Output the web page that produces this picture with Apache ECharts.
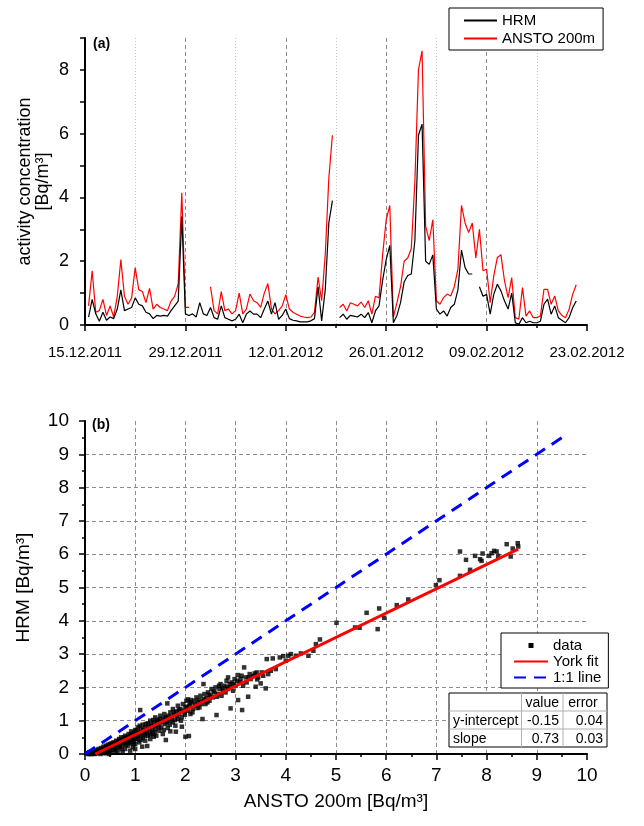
<!DOCTYPE html>
<html><head><meta charset="utf-8">
<script src="https://cdn.jsdelivr.net/npm/echarts@6/dist/echarts.min.js"></script>
<style>html,body{margin:0;padding:0;background:#fff}#c{width:644px;height:826px}</style>
</head><body><div id="c"></div>
<script>
// ---------- data ----------
const dateLabels = ['15.12.2011','29.12.2011','12.01.2012','26.01.2012','09.02.2012','23.02.2012'];
// half-day samples starting 0.5 d after 15.12.2011
const ansto = [
0.6,1.7,0.4,0.45,0.8,0.3,0.6,0.25,0.9,2.05,
0.9,0.65,0.85,1.8,1.1,1.05,0.7,1.15,0.5,0.65,
0.55,0.5,0.45,0.75,0.9,1.3,4.15,0.55,0.55,null,
null,null,null,null,1.2,0.45,0.35,1.05,0.45,0.5,
0.35,0.45,1.0,0.35,0.5,0.97,0.76,0.7,0.55,1.0,
1.3,0.5,0.35,0.45,0.6,0.95,0.5,0.4,0.34,0.28,
0.25,0.23,0.25,0.4,1.5,0.76,2.2,4.6,5.95,null,
0.55,0.65,0.44,0.7,0.65,0.6,0.72,0.55,0.76,0.34,
0.9,0.85,2.2,3.3,3.75,0.25,0.7,1.2,2.0,2.1,
2.4,4.5,8.0,8.6,3.1,2.65,3.3,0.76,0.65,0.86,
0.97,0.91,1.2,1.75,3.75,3.2,2.9,3.2,2.1,3.0,
1.7,1.75,0.7,1.54,2.12,2.2,1.38,0.86,1.49,0.23,
0.18,1.17,0.28,0.44,0.23,0.23,0.28,1.12,1.12,0.65,
0.91,0.44,0.3,0.23,0.49,0.96,1.26
];
const hrm = [
0.25,0.8,0.35,0.12,0.4,0.15,0.25,0.2,0.5,1.1,
0.45,0.5,0.55,0.85,0.65,0.6,0.4,0.35,0.2,0.3,
0.28,0.3,0.28,0.45,0.6,0.75,3.4,0.35,0.3,0.35,
0.25,0.7,0.35,0.3,0.55,0.23,0.18,0.6,0.23,0.18,
0.13,0.18,0.34,0.07,0.34,0.44,0.34,0.34,0.23,0.5,
0.75,0.34,0.7,0.18,0.3,0.5,0.2,0.15,0.13,0.1,
0.1,0.1,0.13,0.2,1.2,0.13,1.1,3.2,3.9,null,
0.23,0.34,0.18,0.3,0.28,0.25,0.34,0.23,0.39,0.07,
0.44,0.6,1.4,2.05,2.5,0.07,0.3,0.7,1.35,1.55,
1.6,2.65,5.95,6.3,2.0,1.9,2.2,0.5,0.34,0.44,
0.28,0.55,0.65,1.1,2.35,1.8,1.6,1.6,null,1.2,
0.9,0.96,0.34,0.96,1.28,1.07,0.75,0.5,1.0,0.07,
0.02,0.23,0.07,0.12,0.07,0.07,0.12,0.65,0.81,0.34,
0.6,0.23,0.15,0.07,0.23,0.54,0.75
];
const scatterAnsto = [
0.05,0.08,0.10,0.12,0.15,0.18,0.20,0.22,0.25,0.27,
0.30,0.32,0.35,0.37,0.40,0.40,0.42,0.45,0.47,0.50,
0.50,0.52,0.55,0.57,0.60,0.60,0.62,0.65,0.65,0.68,
0.70,0.70,0.72,0.75,0.75,0.77,0.80,0.80,0.80,0.82,
0.85,0.85,0.87,0.90,0.90,0.90,0.92,0.95,0.95,0.95,
0.97,1.00,1.00,1.00,1.00,
1.02,1.05,1.05,1.08,1.08,1.10,1.10,1.12,1.14,1.15,
1.15,1.18,1.20,1.20,1.22,1.24,1.25,1.25,1.28,1.30,
1.30,1.30,1.33,1.35,1.37,1.38,1.40,1.40,1.42,1.45,
1.45,1.48,1.50,1.50,
1.52,1.55,1.55,1.58,1.60,1.61,1.62,1.64,1.65,1.68,
1.70,1.70,1.72,1.75,1.75,1.78,1.80,1.81,1.82,1.85,
1.85,1.88,1.90,1.93,1.93,1.95,1.98,2.00,2.00,
2.02,2.05,2.05,2.07,2.08,2.10,2.11,2.12,2.15,2.18,
2.20,2.22,2.25,2.28,2.30,2.34,2.35,2.36,2.38,2.40,
2.42,2.45,2.48,2.50,
2.52,2.55,2.58,2.60,2.62,2.65,2.68,2.70,2.72,2.75,
2.78,2.80,2.82,2.85,2.85,2.88,2.90,2.90,2.92,2.95,
2.98,3.00,
3.05,3.05,3.08,3.10,3.13,3.15,3.17,3.20,3.22,3.25,
3.28,3.30,3.35,3.40,3.42,3.43,3.45,3.50,3.52,3.55,
3.60,3.62,3.65,3.70,3.74,3.80,3.88,3.95,4.00,4.05,
4.10,4.20,4.30,4.45,4.55,4.60,4.68,
5.01,5.38,5.47,5.61,5.83,5.86,5.96,6.21,6.44,6.99,
7.06,7.47,7.47,7.59,7.67,7.77,7.87,7.90,7.92,8.05,
8.10,8.15,8.20,8.23,8.40,8.48,8.52,8.62,8.63,
0.06,0.09,0.13,0.16,0.19,0.21,0.24,0.26,0.29,0.31,
0.33,0.36,0.38,0.41,0.43,0.46,0.48,0.51,0.53,0.56,
0.58,0.61,0.63,0.66,0.69,0.71,0.73,0.76,0.78,0.81,
0.83,0.86,0.88,0.91,0.93,0.96,0.98,1.01,1.03,1.06,
1.09,1.11,1.13,1.16,1.19,1.21,1.23,1.26,1.29,1.31,
1.34,1.36,1.39,1.41,1.44,1.47,1.49,1.53,1.57,1.59,
1.63,1.66,1.69,1.73,1.77,1.79,1.83,1.87,1.91,1.96,
1.99,2.03,2.09,2.14,2.19,2.24,2.27,2.32,2.37,2.44,
2.47,2.56,2.63,2.67,2.74,2.83,2.96,3.03,3.12,3.26,
3.38
];
const scatterHrm = [
0.02,0.05,0.00,0.08,0.03,0.10,0.02,0.12,0.06,0.15,
0.05,0.18,0.10,0.22,0.02,0.14,0.25,0.08,0.20,0.30,
0.12,0.04,0.22,0.35,0.15,0.28,0.40,0.10,0.30,0.45,
0.20,0.35,0.50,0.05,0.28,0.42,0.15,0.35,0.55,0.48,
0.25,0.40,0.60,0.10,0.32,0.50,0.68,0.20,0.45,0.60,
0.38,0.30,0.52,0.72,0.15,
0.62,0.45,0.80,0.35,0.65,0.55,1.32,0.75,0.22,0.48,
0.88,0.62,0.40,0.80,0.70,0.24,0.55,0.92,0.75,0.45,
0.65,1.00,0.85,0.60,0.52,0.95,0.75,1.10,0.55,0.88,
1.02,0.70,0.95,1.15,
0.80,1.05,0.60,1.20,0.90,0.42,1.10,1.52,0.78,1.00,
1.25,0.68,1.12,0.95,1.35,1.18,0.85,0.67,1.28,1.05,
1.45,1.20,1.35,0.82,1.10,1.50,1.25,0.52,1.40,
1.60,1.64,1.30,0.54,1.45,1.20,1.62,1.55,1.35,1.60,
1.45,1.70,1.55,1.40,1.75,1.05,1.60,2.10,1.80,1.50,
1.68,1.85,1.60,1.75,
1.95,1.70,1.85,2.00,1.17,1.80,1.95,2.10,1.75,1.90,
2.05,1.85,2.20,2.30,1.95,2.10,1.37,2.00,2.15,1.90,
2.25,2.05,
2.37,1.62,2.15,2.25,1.32,2.05,2.60,2.30,2.15,1.72,
2.40,2.25,2.35,2.02,2.45,2.24,2.30,2.12,2.45,2.35,
1.97,2.85,2.40,2.50,2.87,2.55,2.90,2.94,2.80,2.95,
3.00,2.95,3.02,2.95,3.10,3.30,3.44,
3.94,3.80,3.79,4.24,3.75,4.37,4.09,4.47,4.64,5.07,
5.22,5.35,6.08,5.83,5.53,5.95,5.85,5.80,6.02,5.95,
6.03,6.10,6.08,5.95,6.30,5.93,6.17,6.33,6.23,
0.00,0.03,0.00,0.06,0.00,0.08,0.02,0.10,0.12,0.00,
0.08,0.16,0.05,0.19,0.10,0.28,0.00,0.20,0.32,0.12,
0.25,0.05,0.20,0.38,0.25,0.42,0.15,0.35,0.50,0.28,
0.42,0.52,0.35,0.58,0.42,0.30,0.65,0.45,0.70,0.55,
0.85,0.42,0.62,0.72,0.55,0.90,0.62,0.82,0.58,0.88,
0.72,1.02,0.65,0.85,0.98,0.80,1.05,0.95,0.72,1.08,
0.95,1.15,0.88,1.05,1.25,1.02,1.15,1.32,1.00,1.30,
1.18,1.42,1.52,1.25,1.48,1.38,1.62,1.50,1.65,1.55,
1.78,1.88,1.72,2.05,1.98,2.00,2.10,2.20,2.35,2.30,
2.42
];
const fitRows = ['y-intercept','slope'];
const fitValue = [-0.15, 0.73];
const fitError = [0.04, 0.03];
const tableHeader = ['', 'value', 'error'];
const oneToOneMax = 9.55;

// ---------- build ----------
const FONT = '"Liberation Sans", Arial, sans-serif';
const dayOf = i => 0.5 * (i + 1);
const anstoData = ansto.map((v, i) => [dayOf(i), v === null ? '-' : v]);
const hrmData = hrm.map((v, i) => [dayOf(i), v === null ? '-' : v]);
const scatterData = scatterAnsto.map((a, i) => [a, scatterHrm[i]]);
const fitStart = -fitValue[0] / fitValue[1];
const fitEnd = Math.max(...scatterAnsto);
const fitData = [[fitStart, fitValue[0] + fitValue[1] * fitStart], [fitEnd, fitValue[0] + fitValue[1] * fitEnd]];
const oneData = [[0, 0], [oneToOneMax, oneToOneMax]];

const axisLine = {show: true, onZero: false, lineStyle: {color: '#000', width: 2}};
const tick = len => ({show: true, inside: false, length: len, lineStyle: {color: '#000', width: 1.5}});
const minorTick = {show: true, splitNumber: 2, length: 3, lineStyle: {color: '#000', width: 1.5}};
const dashedGrid = {show: true, showMinLine: false, showMaxLine: false, lineStyle: {color: '#8c8c8c', width: 1, type: [4, 3]}};
const lbl = (size, margin, fmt) => ({show: true, fontSize: size, fontFamily: FONT, color: '#000', margin: margin, formatter: fmt});
const nameStyle = size => ({fontSize: size, fontFamily: FONT, color: '#000', lineHeight: size});

// table graphic
const T = {cols: [449, 521.5, 563, 607], rows: [693, 711, 729, 747]};
const tableEls = [];
tableEls.push({type: 'rect', z: 100, shape: {x: T.cols[0], y: T.rows[0], width: T.cols[3] - T.cols[0], height: T.rows[3] - T.rows[0]}, style: {fill: '#fff', stroke: '#000', lineWidth: 1}});
[T.cols[1], T.cols[2]].forEach(cx => tableEls.push({type: 'line', z: 101, shape: {x1: cx, y1: T.rows[0], x2: cx, y2: T.rows[3]}, style: {stroke: '#b0b0b0', lineWidth: 1}}));
[T.rows[1], T.rows[2]].forEach(ry => tableEls.push({type: 'line', z: 101, shape: {x1: T.cols[0], y1: ry, x2: T.cols[3], y2: ry}, style: {stroke: '#b0b0b0', lineWidth: 1}}));
const cellText = (txt, x, y, align) => ({type: 'text', z: 102, x: x, y: y, style: {text: txt, fontSize: 14, fontFamily: FONT, fill: '#000', align: align, verticalAlign: 'middle'}});
tableEls.push(cellText(tableHeader[1], (T.cols[1] + T.cols[2]) / 2, (T.rows[0] + T.rows[1]) / 2 + 1, 'center'));
tableEls.push(cellText(tableHeader[2], (T.cols[2] + T.cols[3]) / 2 - 2, (T.rows[0] + T.rows[1]) / 2 + 1, 'center'));
fitRows.forEach((r, i) => {
  const cy = (T.rows[i + 1] + T.rows[i + 2]) / 2 + 1;
  tableEls.push(cellText(r, T.cols[0] + 4, cy, 'left'));
  tableEls.push(cellText(fitValue[i].toFixed(2), T.cols[2] - 4, cy, 'right'));
  tableEls.push(cellText(fitError[i].toFixed(2), T.cols[3] - 4, cy, 'right'));
});

const option = {
  animation: false,
  backgroundColor: '#fff',
  grid: [
    {left: 85, right: 57, top: 38, bottom: 501, containLabel: false},
    {left: 85, right: 57, top: 421, bottom: 72, containLabel: false}
  ],
  xAxis: [
    {gridIndex: 0, type: 'value', min: 0, max: 70, interval: 14,
     axisLine: axisLine, axisTick: tick(6), minorTick: minorTick,
     axisLabel: lbl(15, 20, v => { const k = Math.round(v / 14); return Math.abs(v - 14 * k) < 1e-6 && dateLabels[k] ? dateLabels[k] : ''; }),
     splitLine: dashedGrid,
     minorSplitLine: {show: true, lineStyle: {color: '#c8c8c8', width: 1, type: [1, 2]}}},
    {gridIndex: 1, type: 'value', min: 0, max: 10, interval: 1,
     axisLine: axisLine, axisTick: tick(6), minorTick: minorTick,
     axisLabel: lbl(19, 12, v => String(v)),
     splitLine: dashedGrid,
     name: 'ANSTO 200m [Bq/m³]', nameLocation: 'middle', nameGap: 38, nameTextStyle: nameStyle(19)}
  ],
  yAxis: [
    {gridIndex: 0, type: 'value', min: 0, max: 9, interval: 1,
     axisLine: axisLine, axisTick: tick(5),
     axisLabel: lbl(18, 16, v => (Math.round(v) % 2 === 0 && v < 9 ? String(Math.round(v)) : '')),
     splitLine: {show: false},
     name: 'activity concentration\n[Bq/m³]', nameLocation: 'middle', nameGap: 33, nameMoveOverlap: false,
     nameTextStyle: nameStyle(18)},
    {gridIndex: 1, type: 'value', min: 0, max: 10, interval: 1,
     axisLine: axisLine, axisTick: tick(6), minorTick: minorTick,
     axisLabel: lbl(19, 16, v => String(v)),
     splitLine: dashedGrid,
     name: 'HRM [Bq/m³]', nameLocation: 'middle', nameGap: 52, nameTextStyle: nameStyle(19)}
  ],
  legend: [
    {data: ['HRM', 'ANSTO 200m'], left: 449, top: 8, orient: 'vertical',
     backgroundColor: '#fff', borderColor: '#000', borderWidth: 1, borderRadius: 0,
     padding: [5, 8, 4, 14], itemWidth: 33, itemHeight: 8, itemGap: 3,
     itemStyle: {opacity: 0},
     textStyle: {fontSize: 15, fontFamily: FONT, color: '#000'}},
    {data: [{name: 'data', icon: 'path://M0,0h1v1h-1z', itemStyle: {opacity: 1}}, 'York fit', '1:1 line'],
     left: 501, top: 633, orient: 'vertical',
     backgroundColor: '#fff', borderColor: '#000', borderWidth: 1, borderRadius: 0,
     padding: [5, 7, 3, 12], itemWidth: 34, itemHeight: 5, itemGap: 1, symbolKeepAspect: true,
     itemStyle: {opacity: 0},
     textStyle: {fontSize: 15, fontFamily: FONT, color: '#000'}}
  ],
  series: [
    {name: 'ANSTO 200m', type: 'line', xAxisIndex: 0, yAxisIndex: 0, data: anstoData, symbol: 'none',
     connectNulls: false, lineStyle: {color: '#ff0000', width: 1.2}, itemStyle: {color: '#ff0000'}},
    {name: 'HRM', type: 'line', xAxisIndex: 0, yAxisIndex: 0, data: hrmData, symbol: 'none',
     connectNulls: false, lineStyle: {color: '#000', width: 1.2}, itemStyle: {color: '#000'}},
    {name: 'data', type: 'scatter', xAxisIndex: 1, yAxisIndex: 1, data: scatterData, symbol: 'rect', symbolSize: 4.5,
     itemStyle: {color: '#000'}},
    {name: 'York fit', type: 'line', xAxisIndex: 1, yAxisIndex: 1, data: fitData, symbol: 'none',
     lineStyle: {color: '#ff0000', width: 3}, itemStyle: {color: '#ff0000'}},
    {name: '1:1 line', type: 'line', xAxisIndex: 1, yAxisIndex: 1, data: oneData, symbol: 'none',
     lineStyle: {color: '#0000ff', width: 3, type: [12, 8]}, itemStyle: {color: '#0000ff'}}
  ],
  graphic: [
    {type: 'text', z: 100, x: 93, y: 37, style: {text: '(a)', font: 'bold 14px ' + FONT, fill: '#000'}},
    {type: 'text', z: 100, x: 92, y: 418, style: {text: '(b)', font: 'bold 14px ' + FONT, fill: '#000'}}
  ].concat(tableEls)
};
const chart = echarts.init(document.getElementById('c'), null, {renderer: 'canvas'});
chart.setOption(option);
</script>
</body></html>
